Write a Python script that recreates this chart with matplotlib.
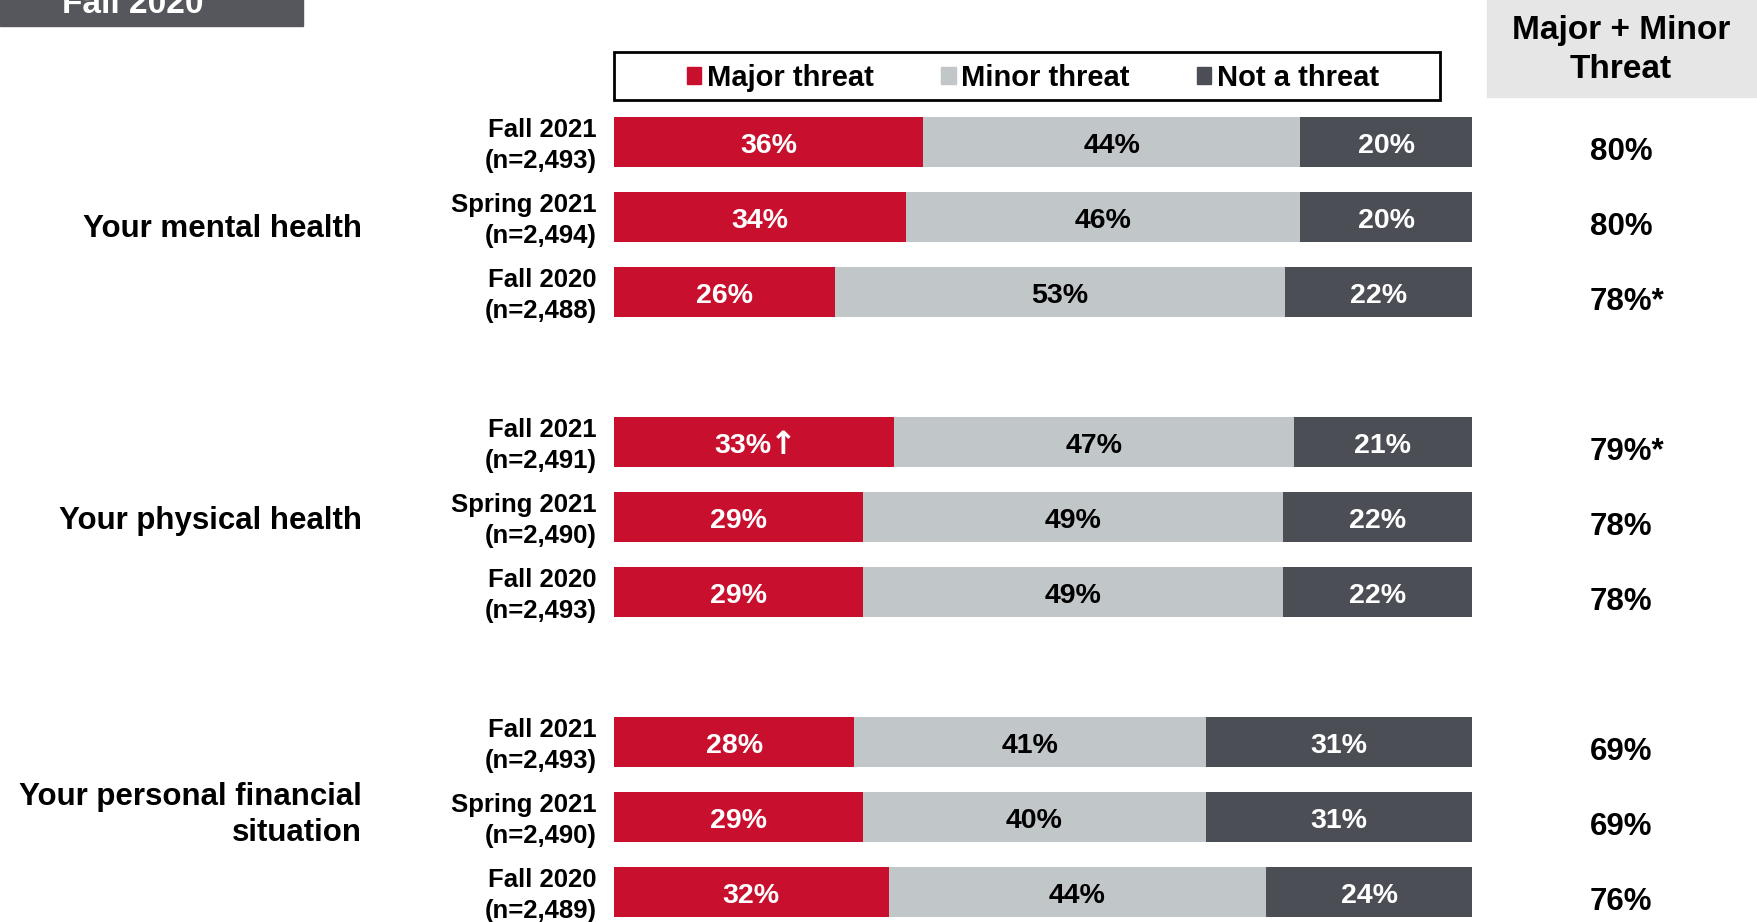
import matplotlib
matplotlib.use("Agg")
import matplotlib.pyplot as plt
import matplotlib.transforms as mtransforms
from matplotlib.patches import Rectangle, Patch
import numpy as np

plt.rcParams['font.family'] = ['Liberation Sans', 'DejaVu Sans']
plt.rcParams['font.weight'] = 'bold'

# data
topics = ['Your mental health', 'Your physical health', 'Your personal financial\nsituation']
waves = ['Fall 2021', 'Spring 2021', 'Fall 2020']
n_sizes = ['2,493', '2,494', '2,488',
           '2,491', '2,490', '2,493',
           '2,493', '2,490', '2,489']
major = [36, 34, 26, 33, 29, 29, 28, 29, 32]
minor = [44, 46, 53, 47, 49, 49, 41, 40, 44]
not_threat = [20, 20, 22, 21, 22, 22, 31, 31, 24]
major_up = [False, False, False, True, False, False, False, False, False]
combined = ['80%', '80%', '78%*', '79%*', '78%', '78%', '69%', '69%', '76%']
series_names = ['Major threat', 'Minor threat', 'Not a threat']
colors = ['#c8102e', '#c1c6c8', '#4b4e55']
text_colors = ['white', 'black', 'white']

W, H = 1758, 922
fig = plt.figure(figsize=(W / 100, H / 100), dpi=100)

# bars axis: x in percent, y in row units (3 rows per topic, 1 blank row between topics)
row_px0, row_pitch = 141.8, 75.0
ax = fig.add_axes([614 / W, 0, (1472 - 614) / W, 1])
ax.set_xlim(0, 100)
ax.set_ylim((H - row_px0) / row_pitch, -row_px0 / row_pitch)
ax.axis('off')

rows = np.array([g * 4 + i for g in range(len(topics)) for i in range(len(waves))])
vals = np.array([major, minor, not_threat], dtype=float)
share = vals / vals.sum(axis=0) * 100
left = np.zeros(len(rows))
shifted = mtransforms.offset_copy(ax.transData, fig=fig, x=-8, units='points')
for k in range(3):
    ax.barh(rows, share[k], left=left, height=0.672, color=colors[k], linewidth=0)
    for r, l, w, v, up in zip(rows, left, share[k], vals[k], major_up):
        arrow = k == 0 and up
        t = ax.text(l + w / 2, r + 0.05, '%d%%' % v, ha='center', va='center',
                    color=text_colors[k], fontsize=20.5, fontweight='bold',
                    transform=shifted if arrow else ax.transData)
        if arrow:
            ax.annotate('\u2191', xy=(1, 0.5), xycoords=t, xytext=(-1.5, 0),
                        textcoords='offset points', ha='left', va='center',
                        color=text_colors[k], fontsize=23, fontweight='bold',
                        family='DejaVu Sans')
    left += share[k]

# row labels, topic labels and combined column (x in figure coords, y in row units)
tr = mtransforms.blended_transform_factory(fig.transFigure, ax.transData)
for i, r in enumerate(rows):
    ax.text(597 / W, r + 0.05, '%s\n(n=%s)' % (waves[i % 3], n_sizes[i]),
            transform=tr, ha='right', va='center', ma='right',
            fontsize=18.5, linespacing=1.4, clip_on=False)
    ax.text(1590 / W, r + 0.14, combined[i], transform=tr, ha='left', va='center',
            fontsize=22.5, clip_on=False)
topic_dy = [0.16, 0.06, -0.02]
for g, t in enumerate(topics):
    ax.text(362 / W, g * 4 + 1 + topic_dy[g], t, transform=tr,
            ha='right', va='center', ma='right', fontsize=22.5,
            linespacing=1.27, clip_on=False)

# header box on the right
fig.patches.append(Rectangle((1487 / W, 1 - 97 / H), 269 / W, 97 / H,
                             transform=fig.transFigure, color='#e6e6e6', zorder=0))
fig.text(1621 / W, 1 - 50 / H, 'Major + Minor\nThreat', ha='center', va='center',
         fontsize=24, linespacing=1.37)

# cut-off tab at top left
fig.patches.append(Rectangle((0, 1 - 26 / H), 303 / W, 40 / H,
                             transform=fig.transFigure, color='#55575c', zorder=0))
fig.text(62 / W, 1 - 12.7 / H, 'Fall 2020', ha='left', va='baseline',
         color='white', fontsize=24)

# legend
fig.patches.append(Rectangle((614 / W, 1 - 100 / H), 826 / W, 48 / H,
                             transform=fig.transFigure, fill=False,
                             edgecolor='black', linewidth=2))
handles = [Patch(color=c) for c in colors]
fig.legend(handles, series_names, loc='center', bbox_to_anchor=(1033 / W, 1 - 78 / H),
           ncol=3, frameon=False, fontsize=21, handlelength=0.5, handleheight=0.55,
           handletextpad=0.2, columnspacing=2.3, borderpad=0)

fig.savefig('out.png', dpi=100)
